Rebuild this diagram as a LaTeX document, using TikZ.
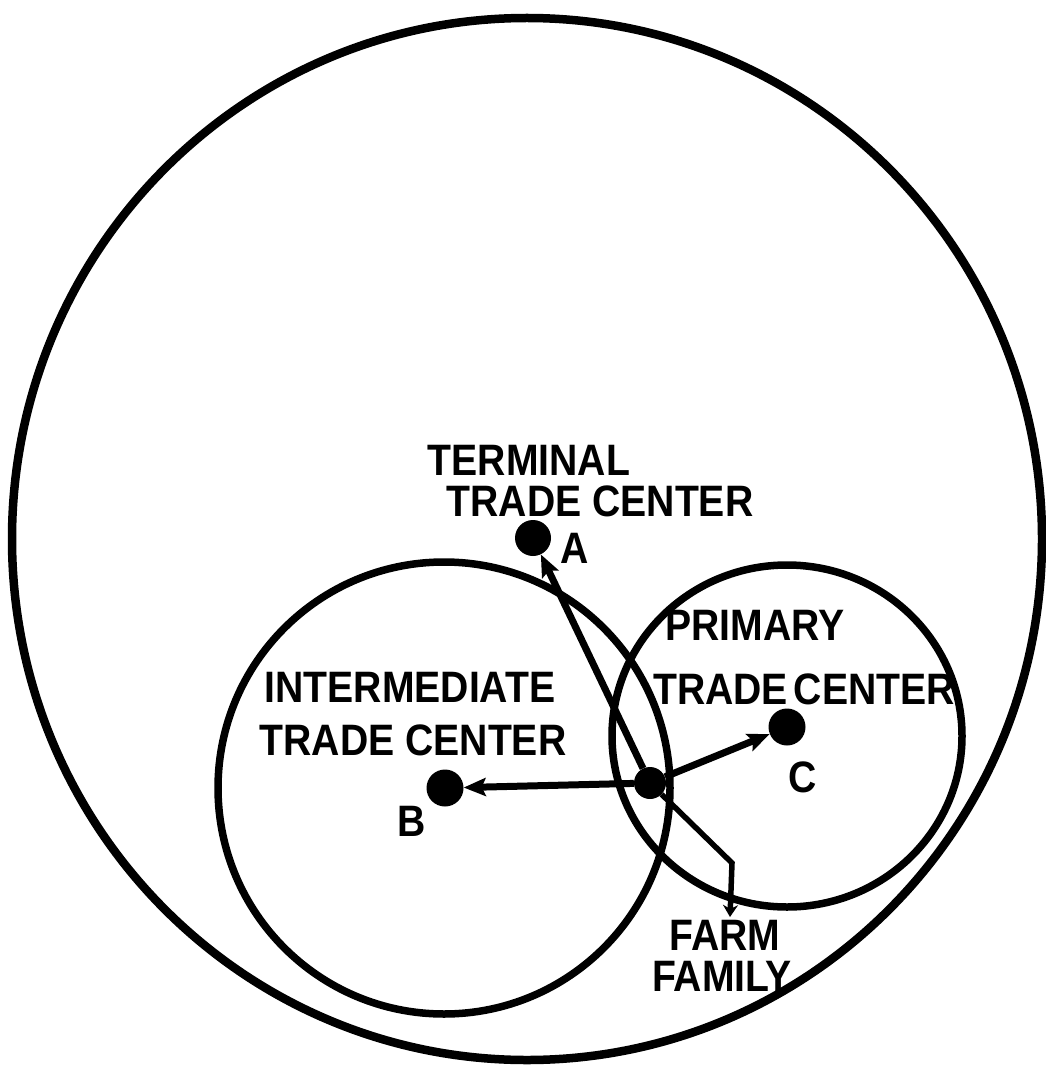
\documentclass[tikz,border=0pt]{standalone}
\usepackage{fontspec}
\newfontfamily\lblfont[FakeStretch=0.89]{Liberation Sans Bold}
\usetikzlibrary{arrows.meta}
\begin{document}
\begin{tikzpicture}[x=1pt,y=-1pt,
  ring/.style={draw=black,line width=7.5pt},
  dot/.style={circle,fill=black,inner sep=0pt},
  lbl/.style={anchor=base,inner sep=0pt,font=\fontsize{44}{50}\lblfont},
  arr/.style={line width=7pt,-{Stealth[length=22pt,width=18pt,inset=4pt]}},
  lead/.style={line width=5.5pt,-{Stealth[length=12pt,width=15pt]}}]
\useasboundingbox (0,0) rectangle (1045,1067);
% circles
\draw[ring,line width=8.5pt] (527,539) ellipse [x radius=515, y radius=521];
\draw[ring] (444,788) circle [radius=226];
\draw[ring] (787,736) ellipse [x radius=175, y radius=171];
% centres
\node[dot,minimum size=36pt] (A) at (533,538) {};
\node[dot,minimum size=37pt] (B) at (445,788) {};
\node[dot,minimum size=37pt] (C) at (787,727) {};
\node[dot,minimum size=32pt] (F) at (650,783) {};
\coordinate (bend) at (732,863);
\coordinate (foot) at (730,917);
% labels
\node[lbl] (t1) at (529,475) {TERMINAL};
\node[lbl] (t2) at (600,516) {TRADE CENTER};
\node[lbl] (la) at (575,563) {A};
\node[lbl] (p1) at (755,640) {PRIMARY};
\node[lbl] (p2) at (804,704) {TRADE\hspace{-5pt} CENTER};
\node[lbl] (lc) at (803,792) {C};
\node[lbl] (i1) at (410,702) {INTERMEDIATE};
\node[lbl] (i2) at (413,755) {TRADE CENTER};
\node[lbl] (lb) at (412,836) {B};
\node[lbl] (f1) at (725,950) {FARM};
\node[lbl] (f2) at (722,991) {FAMILY};
% connectors
\draw[arr] (F) -- (A);
\draw[arr] (F) -- (B);
\draw[arr] (F) -- (C);
\draw[lead] (F) -- (bend) -- (foot);
\end{tikzpicture}
\end{document}
